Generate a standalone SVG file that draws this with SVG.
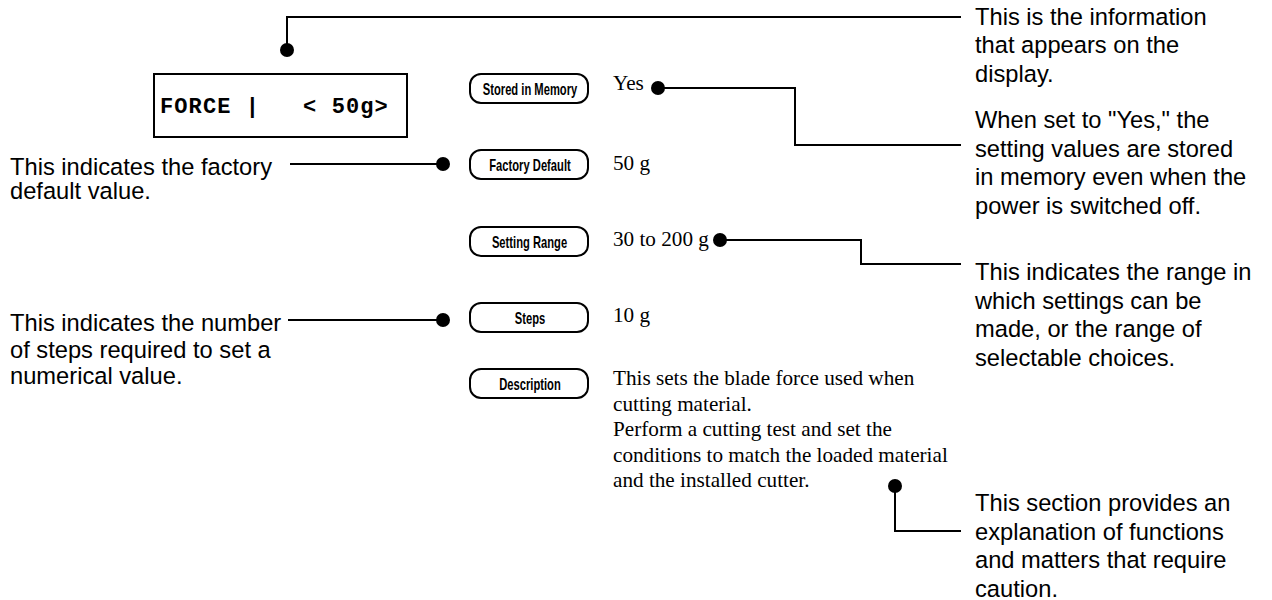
<svg xmlns="http://www.w3.org/2000/svg" width="1272" height="600" viewBox="0 0 1272 600">
<style>
.note{font-family:"Liberation Sans",Arial,sans-serif;font-size:23.7px;fill:#000}
.val{font-family:"Liberation Serif","Times New Roman",serif;font-size:21.2px;fill:#000}
.pill{fill:#fff;stroke:#000;stroke-width:2}
.ptxt{font-family:"Liberation Sans",Arial,sans-serif;font-size:16px;font-weight:bold;fill:#000;text-anchor:middle}
.ln{fill:none;stroke:#000;stroke-width:2}
.dot{fill:#000}
.disp{font-family:"Liberation Mono","Courier New",monospace;font-size:22px;font-weight:bold;letter-spacing:1.1px;fill:#000}
</style>
<rect width="1272" height="600" fill="#fff"/>

<g id="display">
<rect x="154" y="74" width="253" height="63" fill="#fff" stroke="#000" stroke-width="2"/>
<text class="disp" x="160" y="113" xml:space="preserve">FORCE |   &lt; 50g&gt;</text>
</g>

<g id="pill-stored">
<rect class="pill" x="470" y="74" width="118" height="29" rx="11"/>
<text class="ptxt" transform="translate(530,94.5) scale(0.7,1)">Stored in Memory</text>
</g>
<g id="pill-factory">
<rect class="pill" x="470" y="150" width="118" height="29" rx="11"/>
<text class="ptxt" transform="translate(530,170.5) scale(0.7,1)">Factory Default</text>
</g>
<g id="pill-range">
<rect class="pill" x="470" y="227" width="118" height="29" rx="11"/>
<text class="ptxt" transform="translate(529.5,247.5) scale(0.7,1)">Setting Range</text>
</g>
<g id="pill-steps">
<rect class="pill" x="470" y="303" width="118" height="29" rx="11"/>
<text class="ptxt" transform="translate(530,323.5) scale(0.7,1)">Steps</text>
</g>
<g id="pill-description">
<rect class="pill" x="470" y="369" width="118" height="29" rx="11"/>
<text class="ptxt" transform="translate(530,389.5) scale(0.7,1)">Description</text>
</g>

<g id="values">
<text class="val" x="613" y="90">Yes</text>
<text class="val" x="613" y="170">50 g</text>
<text class="val" x="613" y="246">30 to 200 g</text>
<text class="val" x="613" y="322">10 g</text>
<text class="val" x="613" y="385">This sets the blade force used when</text>
<text class="val" x="613" y="410.5">cutting material.</text>
<text class="val" x="613" y="436">Perform a cutting test and set the</text>
<text class="val" x="613" y="461.5">conditions to match the loaded material</text>
<text class="val" x="613" y="487">and the installed cutter.</text>
</g>

<g id="note-display">
<text class="note" x="975" y="25">This is the information</text>
<text class="note" x="975" y="53">that appears on the</text>
<text class="note" x="975" y="81.5">display.</text>
</g>
<g id="note-memory">
<text class="note" x="975" y="128">When set to "Yes," the</text>
<text class="note" x="975" y="156.5">setting values are stored</text>
<text class="note" x="975" y="185">in memory even when the</text>
<text class="note" x="975" y="213.5">power is switched off.</text>
</g>
<g id="note-range">
<text class="note" x="975" y="280">This indicates the range in</text>
<text class="note" x="975" y="308.5">which settings can be</text>
<text class="note" x="975" y="337">made, or the range of</text>
<text class="note" x="975" y="365.5">selectable choices.</text>
</g>
<g id="note-description">
<text class="note" x="975" y="511">This section provides an</text>
<text class="note" x="975" y="539.5">explanation of functions</text>
<text class="note" x="975" y="568">and matters that require</text>
<text class="note" x="975" y="596.5">caution.</text>
</g>
<g id="note-factory">
<text class="note" x="10" y="175">This indicates the factory</text>
<text class="note" x="10" y="199">default value.</text>
</g>
<g id="note-steps">
<text class="note" x="10" y="331">This indicates the number</text>
<text class="note" x="10" y="357.5">of steps required to set a</text>
<text class="note" x="10" y="384">numerical value.</text>
</g>

<g id="connectors">
<polyline class="ln" points="287,50 287,17 961,17"/>
<circle class="dot" cx="287" cy="50" r="7"/>
<polyline class="ln" points="658,88 795,88 795,145 961,145"/>
<circle class="dot" cx="658" cy="88" r="7"/>
<line class="ln" x1="290" y1="164" x2="443" y2="164"/>
<circle class="dot" cx="443" cy="164" r="7"/>
<polyline class="ln" points="720,240 861,240 861,264 961,264"/>
<circle class="dot" cx="720" cy="240" r="7"/>
<line class="ln" x1="288" y1="320" x2="443" y2="320"/>
<circle class="dot" cx="443" cy="320" r="7"/>
<polyline class="ln" points="895,486 895,531 961,531"/>
<circle class="dot" cx="895" cy="486" r="7"/>
</g>
</svg>
